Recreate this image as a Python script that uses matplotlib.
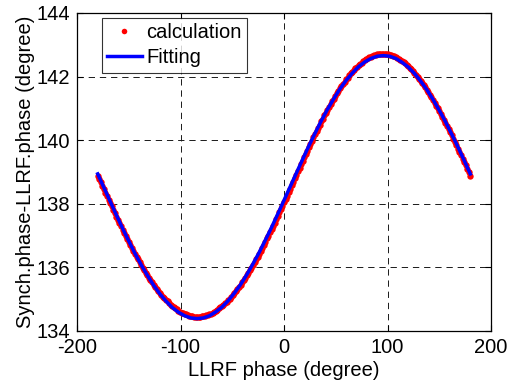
import numpy as np
import matplotlib
matplotlib.use("Agg")
import matplotlib.pyplot as plt

plt.rcParams['font.family'] = ['Liberation Sans', 'DejaVu Sans']

# calculation: LLRF phase (deg) every 1.5 degrees from -180 to 180
calc_x = np.linspace(-180, 180, 241)
calc_y = [
    138.88, 138.78, 138.67, 138.56, 138.45, 138.34, 138.24, 138.13, 138.02, 137.92,
    137.81, 137.71, 137.60, 137.50, 137.40, 137.29, 137.19, 137.09, 136.99, 136.90,
    136.80, 136.70, 136.61, 136.52, 136.43, 136.34, 136.25, 136.16, 136.08, 135.99,
    135.91, 135.83, 135.75, 135.68, 135.60, 135.53, 135.46, 135.39, 135.33, 135.26,
    135.20, 135.14, 135.08, 135.03, 134.98, 134.93, 134.88, 134.83, 134.79, 134.75,
    134.71, 134.68, 134.64, 134.61, 134.58, 134.56, 134.54, 134.52, 134.50, 134.48,
    134.47, 134.46, 134.45, 134.45, 134.45, 134.45, 134.45, 134.46, 134.47, 134.48,
    134.50, 134.51, 134.53, 134.55, 134.58, 134.61, 134.64, 134.67, 134.71, 134.74,
    134.78, 134.83, 134.87, 134.92, 134.97, 135.02, 135.08, 135.13, 135.19, 135.26,
    135.32, 135.39, 135.46, 135.53, 135.60, 135.67, 135.75, 135.83, 135.91, 135.99,
    136.08, 136.16, 136.25, 136.34, 136.43, 136.52, 136.62, 136.71, 136.81, 136.91,
    137.00, 137.10, 137.21, 137.31, 137.41, 137.52, 137.62, 137.73, 137.83, 137.94,
    138.05, 138.16, 138.26, 138.37, 138.48, 138.59, 138.70, 138.81, 138.92, 139.03,
    139.13, 139.24, 139.35, 139.46, 139.56, 139.67, 139.78, 139.88, 139.99, 140.09,
    140.19, 140.29, 140.39, 140.49, 140.59, 140.68, 140.78, 140.87, 140.96, 141.05,
    141.14, 141.22, 141.31, 141.39, 141.47, 141.55, 141.63, 141.70, 141.77, 141.84,
    141.91, 141.97, 142.04, 142.10, 142.15, 142.21, 142.26, 142.31, 142.36, 142.40,
    142.44, 142.48, 142.52, 142.55, 142.58, 142.61, 142.63, 142.65, 142.67, 142.69,
    142.70, 142.71, 142.71, 142.72, 142.72, 142.72, 142.71, 142.70, 142.69, 142.68,
    142.66, 142.64, 142.62, 142.59, 142.56, 142.53, 142.49, 142.46, 142.42, 142.37,
    142.33, 142.28, 142.23, 142.17, 142.12, 142.06, 142.00, 141.93, 141.87, 141.80,
    141.73, 141.66, 141.58, 141.51, 141.43, 141.35, 141.26, 141.18, 141.09, 141.00,
    140.91, 140.82, 140.73, 140.64, 140.54, 140.44, 140.34, 140.25, 140.15, 140.04,
    139.94, 139.84, 139.73, 139.63, 139.52, 139.42, 139.31, 139.21, 139.10, 138.99,
    138.88,
]

# fitting curve every 6 degrees from -180 to 180
fit_x = np.linspace(-180, 180, 61)
fit_y = [
    138.94, 138.51, 138.08, 137.65, 137.23, 136.83, 136.44, 136.08, 135.75, 135.44,
    135.17, 134.94, 134.74, 134.59, 134.48, 134.41, 134.39, 134.41, 134.48, 134.60,
    134.75, 134.95, 135.19, 135.46, 135.77, 136.11, 136.47, 136.86, 137.26, 137.68,
    138.11, 138.54, 138.97, 139.40, 139.82, 140.22, 140.61, 140.97, 141.30, 141.61,
    141.88, 142.11, 142.31, 142.46, 142.57, 142.64, 142.66, 142.64, 142.57, 142.45,
    142.30, 142.10, 141.86, 141.59, 141.28, 140.94, 140.58, 140.19, 139.79, 139.37,
    138.94,
]

x_ticks = [-200, -100, 0, 100, 200]
y_ticks = [134, 136, 138, 140, 142, 144]

fig = plt.figure(figsize=(5.11, 3.83), dpi=100)
ax = fig.add_axes([77 / 511, 52 / 383, 414 / 511, 318 / 383])

ax.plot(calc_x, calc_y, 'o', color='#ff0000', markersize=4.6, markeredgewidth=0,
        label='calculation', zorder=3)
ax.plot(fit_x, fit_y, '-', color='#0000ff', linewidth=2.5, label='Fitting', zorder=4)

ax.set_xlim(-200, 200)
ax.set_ylim(134, 144)
ax.set_xticks(x_ticks)
ax.set_yticks(y_ticks)
ax.set_xticklabels([str(v) for v in x_ticks])
ax.set_yticklabels([str(v) for v in y_ticks])

ax.grid(True, color='0.1', linestyle=(0, (6.5, 5.0)), linewidth=0.7)
ax.set_axisbelow(True)
ax.tick_params(direction='in', length=4, width=0.8, top=True, right=True,
               labelsize=14.5, pad=5, colors='black')
for s in ax.spines.values():
    s.set_linewidth(0.9)
    s.set_color('black')

ax.set_xlabel('LLRF phase (degree)', fontsize=14.5, labelpad=3)
ax.set_ylabel('Synch.phase-LLRF.phase (degree)', fontsize=14.5, labelpad=1)

leg = ax.legend(loc='upper left', bbox_to_anchor=(0.06, 0.983), fontsize=14.5,
                frameon=True, fancybox=False, shadow=False, borderpad=0.25,
                labelspacing=0.3, handlelength=1.75, handletextpad=0.2,
                borderaxespad=0, numpoints=1)
leg.get_frame().set_edgecolor('black')
leg.get_frame().set_linewidth(0.8)
leg.legend_handles[0].set_markersize(4)

fig.savefig('out.png', dpi=100)
